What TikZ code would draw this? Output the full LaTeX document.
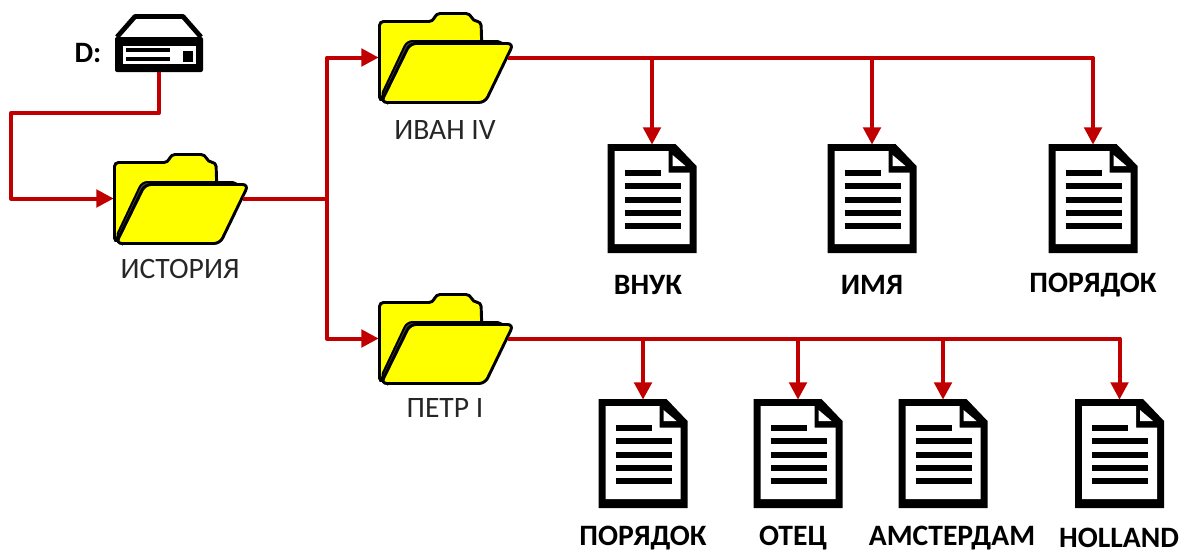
\documentclass[tikz,border=0pt]{standalone}
\usepackage{fontspec}
\setmainfont{Carlito}
\usepackage{xcolor}
\usetikzlibrary{arrows.meta}

\definecolor{wirered}{HTML}{C00000}
\definecolor{folderyellow}{HTML}{FFFF00}

\tikzset{
  wire/.style={draw=wirered, line width=3pt, line join=round},
  arrowwire/.style={wire, -{Triangle[length=13pt,width=13pt]}, shorten >=-0.5pt},
  outwire/.style={shorten <=-3pt},
  slot/.style={draw=none, inner sep=0pt, outer sep=0pt},
  boldlabel/.style={font=\fontsize{22.2}{26}\selectfont\bfseries, text=black, inner sep=0pt},
  folderlabel/.style={font=\fontsize{22.2}{26}\selectfont, text=black!85, inner sep=0pt},
  folder/.pic={
    \node[slot, anchor=north west, minimum width=100.5pt, minimum height=68.25pt] (-b) at (0,0) {};
    \draw[line width=2.2pt, fill=folderyellow, rounded corners=3pt] (1.5,89) -- (1.5,9.5) -- (55,9.5) -- (58,1.5) -- (92,1.5) -- (95,9) -- (103,9.5) -- (104,40) -- cycle;
    \draw[line width=1.5pt, fill=black!75, rounded corners=4pt] (2.5,85) -- (29,29) -- (125,29) -- (125,40) -- (6,88) -- cycle;
    \draw[line width=2.2pt, fill=folderyellow, rounded corners=4.5pt] (3,90.5) -- (32,31.5) -- (135.5,31.5) -- (107,90.5) -- cycle;
  },
  document/.pic={
    \node[slot, anchor=north west, minimum width=66.75pt, minimum height=81.75pt] (-b) at (0,0) {};
    \fill[black] (0,0) -- (68,0) -- (89,22) -- (89,109) -- (0,109) -- cycle;
    \fill[white] (7,7) -- (61,7) -- (61,28.5) -- (82,28.5) -- (82,100) -- (7,100) -- cycle;
    \fill[white] (65,11) -- (78,22) -- (65,22) -- cycle;
    \foreach \rowy/\rowx in {29/53, 42/73, 56/73, 69/73, 82/73}
      \draw[line width=3.8pt] (17,\rowy) -- (\rowx,\rowy);
  },
  drive/.pic={
    \node[slot, anchor=north west, minimum width=66pt, minimum height=43.5pt] (-b) at (0,0) {};
    \draw[line width=3.6pt, line join=round] (2,23) -- (20,2.5) -- (68,2.5) -- (86,23);
    \fill[black, rounded corners=1.5pt] (0,23) rectangle (88,58);
    \fill[white] (8,32) rectangle (81,50);
    \draw[line width=2.6pt] (11,36) -- (55,36);
    \draw[line width=2.6pt] (11,45) -- (55,45);
    \fill[black] (68,37) rectangle (78,48);
  },
}

\begin{document}
\begin{tikzpicture}[x=0.75pt, y=-0.75pt]
  \useasboundingbox (0,0) rectangle (1187,553);

  \pic (disk) at (115,14) {drive};
  \pic (hist) at (113,153) {folder};
  \pic (ivan) at (378,12) {folder};
  \pic (petr) at (378,293) {folder};

  \pic (vnuk) at (607.5,144) {document};
  \pic (imya) at (827.5,144) {document};
  \pic (porA) at (1048.5,144) {document};

  \pic (porB) at (598.5,399) {document};
  \pic (otec) at (753.5,399) {document};
  \pic (amst) at (898.5,399) {document};
  \pic (holl) at (1075,399) {document};

  \node[boldlabel] (ldisk) at (88,53) {D:};
  \node[folderlabel] (lhist) at (180,269) {ИСТОРИЯ};
  \node[folderlabel] (livan) at (445,130) {ИВАН IV};
  \node[folderlabel] (lpetr) at (445,408) {ПЕТР I};
  \node[boldlabel] (lvnuk) at (648,285) {ВНУК};
  \node[boldlabel] (limya) at (872,285) {ИМЯ};
  \node[boldlabel] (lporA) at (1093,285) {ПОРЯДОК};
  \node[boldlabel] (lporB) at (643,538) {ПОРЯДОК};
  \node[boldlabel] (lotec) at (793,538) {ОТЕЦ};
  \node[boldlabel] (lamst) at (952,538) {АМСТЕРДАМ};
  \node[boldlabel] (lholl) at (1119,538) {HOLLAND};

  \coordinate (turn) at (11,113);
  \coordinate (fork) at ([xshift=60pt]hist-b.east);

  \draw[arrowwire] (disk-b.south) |- (turn) |- (hist-b.west);
  \draw[wire, outwire] (hist-b.east) -- (fork);
  \draw[arrowwire] (fork) |- (ivan-b.west);
  \draw[arrowwire] (fork) |- (petr-b.west);

  \foreach \target in {vnuk, imya, porA}
    \draw[arrowwire, outwire] (ivan-b.east) -| (\target-b.north);
  \foreach \target in {porB, otec, amst, holl}
    \draw[arrowwire, outwire] (petr-b.east) -| (\target-b.north);
\end{tikzpicture}
\end{document}
